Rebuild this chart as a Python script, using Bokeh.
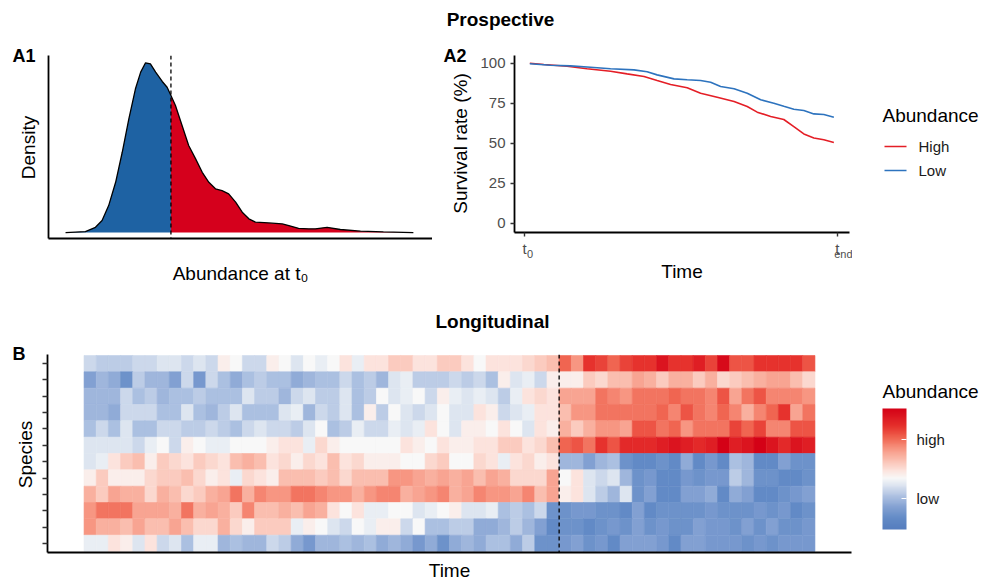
import math
from bokeh.plotting import figure
from bokeh.models import (Range1d, Span, FixedTicker, LinearColorMapper, LinearAxis,
                          ColorBar, ColumnDataSource)
from bokeh.layouts import column, row
from bokeh.transform import transform
from bokeh.core.properties import value
from bokeh.embed import file_html
from bokeh.resources import INLINE

FONT = "Liberation Sans"

# ---------------- A1: density of abundance at t0 ----------------
dens_x = [0.00, 0.57, 0.86, 1.05, 1.24, 1.44, 1.63, 1.82, 2.01, 2.16, 2.30, 2.44, 2.59, 2.78,
          2.92, 3.03, 3.16, 3.35, 3.54, 3.74, 3.93, 4.12, 4.31, 4.50, 4.69, 4.89, 5.08, 5.27,
          5.46, 5.84, 6.23, 6.42, 6.70, 6.99, 7.18, 7.52, 7.90, 8.48, 9.14, 10.00]
dens_y = [0.000, 0.006, 0.031, 0.071, 0.159, 0.296, 0.473, 0.670, 0.847, 0.945, 1.000, 0.994,
          0.945, 0.890, 0.856, 0.807, 0.748, 0.631, 0.513, 0.434, 0.355, 0.296, 0.258, 0.247,
          0.228, 0.179, 0.120, 0.081, 0.061, 0.057, 0.051, 0.041, 0.025, 0.022, 0.022, 0.031,
          0.018, 0.008, 0.004, 0.000]
threshold = 3.03

# ---------------- A2: survival curves ----------------
time_high = [0.017, 0.062, 0.136, 0.200, 0.275, 0.328, 0.382, 0.424, 0.467, 0.520, 0.563,
             0.616, 0.670, 0.712, 0.744, 0.787, 0.829, 0.861, 0.893, 0.925, 0.957, 0.989]
surv_high = [100, 99.2, 98.1, 96.5, 95, 93.3, 91.7, 89.2, 86.7, 84.6, 81.25,
             78.75, 76, 72.9, 69.4, 66.7, 64.8, 60.4, 55.8, 53.3, 52.1, 50.4]
time_low = [0.017, 0.083, 0.147, 0.211, 0.275, 0.350, 0.392, 0.424, 0.478, 0.520, 0.563, 0.595,
            0.627, 0.670, 0.712, 0.755, 0.797, 0.829, 0.861, 0.893, 0.925, 0.957, 0.989]
surv_low = [99.6, 98.75, 98.3, 97.5, 96.5, 95.8, 94.6, 92.7, 90.2, 89.6, 89.2, 88.1,
            85.4, 84, 81.25, 77.1, 75, 73.1, 71.25, 70.4, 68.3, 67.9, 66.25]
surv_ticks = [0, 25, 50, 75, 100]
time_ticks = [0, 1]
time_tick_main = ["t", "t"]
time_tick_sub = ["0", "end"]
group_labels = ["High", "Low"]

# ---------------- B: heatmap (12 species x 60 time steps) ----------------
sp01 = [-1.5, -2, -2, -2, -1.5, -1.5, -1, -1, -1.5, -1, -1.5, 0.5, 0, -1.5, -1.5,
        0.5, 0, -1, 0, -0.5, 0, 1, -0.5, 1, 1, 2, 2, 1, 1, 2,
        2, 1, 0, 1, 1, 1, 1.5, 2, 2.5, 5.5, 4, 7, 6.5, 5.5, 6.5,
        7, 7, 8.5, 7, 7, 8, 6.5, 9, 6, 6, 7, 7, 7, 7, 6]
sp02 = [-4, -3, -3.5, -5, -2, -3, -3, -4, -1.5, -4.5, -1.5, -2.5, -3.5, -2.5, -2,
        -2.5, -2.5, -3.5, -3, -2.5, -2.5, -1.5, -2.5, -2, -3, -1, -0.5, -2, -2, -2,
        -1.5, -2, -1.5, -2.5, 0.5, -1, -0.5, -1.5, 0.5, 0.5, 0.5, 2, 1.5, 2.5, 2.5,
        3.5, 3, 2, 3, 3, 2, 3, 1.5, 2, 2.5, 3, 3.5, 3.5, 2.5, 1.5]
sp03 = [-3, -3, -3, -1.5, -2.5, -2, -3, -2.5, -2.5, -2, -2.5, -2.5, -2.5, -1, -2,
        -2, -3, -1.5, -1, -2, -2, -1, -2.5, -2, 0, -1, -0.5, 0, -1.5, 0.5,
        -0.5, -1, -0.5, -1, -2, -0.5, 1, 1.5, 1, 3.5, 3.5, 3.5, 5, 4.5, 4,
        5, 5, 5, 5.5, 5, 5, 4.5, 6, 3.5, 5, 6, 4.5, 4.5, 4.5, 4]
sp04 = [-3, -3, -3.5, -1.5, -1.5, -1.5, -2.5, -2.5, -1, -2.5, -3, -2, -1, -2.5, -2.5,
        -2.5, -1, -0.5, -3, -1.5, -2, -1, -2.5, 0.5, -2, 0, -1, -1.5, -1, 0,
        -1, -1, 1, 0.5, -1.5, -1, -0.5, 1, 1, 2.5, 4, 4, 5, 5, 5,
        5, 5, 5.5, 4.5, 6, 5, 4.5, 5.5, 4.5, 3, 4.5, 5.5, 7, 3.5, 5]
sp05 = [-2.5, -1.5, -2.5, -1, -2.5, -2.5, -1.5, -1.5, -2, -2, -1.5, -2, -2.5, -1.5, -1,
        -1.5, -1.5, -2, -1, 0, -2.5, -2, -0.5, -1.5, -1.5, -0.5, -1, -0.5, 1, 0,
        -1, 0.5, 0.5, 0, 1, 0, -1, 1, 0.5, 3, 2, 3, 4, 4, 3.5,
        6, 6, 5, 5.5, 4, 5, 5, 5, 6.5, 5.5, 6.5, 4.5, 4.5, 6, 6]
sp06 = [-1, -1, -1, -1, -1.5, -0.5, 0, -1.5, 0.5, 0, -0.5, -0.5, 0, 0, 0,
        0.5, 1, 1, -0.5, 1.5, 0.5, 0, 0, 0, 0, 0, 1, 0.5, 0, 1,
        0.5, 0.5, 1, 1, 2, 2, 1, 1.5, 2.5, 5.5, 6, 5, 7, 6, 7.5,
        7.5, 7.5, 8, 8.5, 8, 7.5, 8, 9.5, 8, 8.5, 9.5, 8.5, 7.5, 8.5, 8]
sp07 = [-1, -0.5, 1, 2, 2.5, 0.5, 2, 1.5, 1, 2, 1.5, 1, 2.5, 3, 2.5,
        1, 1.5, 0.5, 1.5, 1, 2.5, 1, 1.5, 0.5, 0.5, 0.5, 0, 0, 1.5, 2,
        0, 0, 1.5, 1, -0.5, 1, 1.5, 0.5, 1, -3, -3, -4, -3, -2.5, -5,
        -5.5, -5.5, -5, -5.5, -3.5, -5.5, -4.5, -5.5, -2.5, -3, -5.5, -5.5, -4, -5, -5]
sp08 = [0.5, 2, 0.5, 0.5, 0.5, 1.5, 2, 2, 2.5, 1.5, 0.5, 1, -0.5, 1.5, 1,
        0.5, 2.5, 2.5, 2.5, 2, 2.5, 1.5, 2.5, 2.5, 2.5, 4, 4, 3.5, 3, 3.5,
        3, 3.5, 2.5, 3.5, 3, 1.5, 1.5, 1.5, 3.5, 0, 1, -1, -1.5, -1, -3,
        -5, -4.5, -5.5, -5.5, -4.5, -5, -4.5, -4.5, -2, -3, -5, -5, -5.5, -5.5, -5]
sp09 = [3, 2, 3.5, 3, 3, 1.5, 3, 2.5, 1.5, 2, 3, 3.5, 5, 3, 4.5,
        4, 4, 5, 5, 4.5, 4, 4, 3, 4, 4.5, 4.5, 3, 3.5, 4, 4.5,
        3, 3.5, 4.5, 4, 4, 3.5, 4.5, 2.5, 3.5, 0.5, 1, -1, -2, -3, -1,
        -5, -4, -5.5, -5.5, -4, -4, -3.5, -5.5, -3.5, -4, -5.5, -5.5, -5, -4.5, -4]
sp10 = [4, 5, 5, 5, 3.5, 3.5, 3.5, 3, 5, 3, 3.5, 3, 2, 4.5, 2.5,
        2.5, 3, 2.5, 3.5, 3, 1, 0, 1, -0.5, -0.5, 0, 0, -1, -0.5, 0,
        0.5, -1, -1, -0.5, -2.5, -2, -2.5, -1.5, -5, -5, -4.5, -4.5, -5, -5, -5.5,
        -4, -5.5, -5, -5, -5, -5, -4.5, -5, -5, -5, -4.5, -5, -4.5, -5.5, -5]
sp11 = [4, 3, 3, 2.5, 3.5, 2.5, 2.5, 3.5, 2.5, 1.5, 1.5, 3, 1.5, 0.5, 2,
        2, 2, -0.5, 0.5, 0, -1, -1.5, 0, -0.5, 0.5, 0.5, -1.5, 0, -2.5, -2.5,
        -2, -2, -3.5, -3.5, -3, -2, -3, -4, -5.5, -5, -5, -5.5, -5, -4.5, -5,
        -4, -5, -4.5, -5, -5, -4, -4.5, -4.5, -5, -4, -5, -4, -5, -5, -4.5]
sp12 = [-0.5, -0.5, 1, 0.5, -1, 1, -1.5, -1, -2.5, -0.5, -0.5, -3, -2.5, -3, -3,
        -1.5, -2, -3.5, -4.5, -3, -3, -2.5, -3, -2.5, -3.5, -3, -3.5, -4.5, -3.5, -5,
        -3.5, -3, -3.5, -2.5, -2.5, -3.5, -2, -5, -5, -4.5, -4, -5, -4.5, -5.5, -4,
        -4, -4, -4.5, -5.5, -4, -4, -4.5, -4.5, -4.5, -5, -4.5, -5, -4.5, -4.5, -4.5]
species_rows = [sp01, sp02, sp03, sp04, sp05, sp06, sp07, sp08, sp09, sp10, sp11, sp12]
split_col = 39
scale_low, scale_high = -7.0, 9.5
scale_ticks = [-2.75, 5.25]
scale_tick_labels = ["low", "high"]

# ---------------- styling ----------------
BLUE_FILL = "#1E62A3"
RED_FILL = "#D5001C"
RED_LINE = "#E41E26"
BLUE_LINE = "#2D73BE"
TICK_GREY = "#4D4D4D"

anchors = [(-7.0, (85, 125, 190)), (-5.5, (98, 138, 198)), (-4.0, (130, 160, 210)),
           (-2.5, (172, 192, 225)), (-1.0, (220, 228, 240)), (0.0, (248, 248, 248)),
           (1.0, (252, 228, 222)), (2.5, (250, 190, 175)), (4.0, (247, 150, 130)),
           (5.5, (240, 100, 80)), (7.0, (230, 50, 45)), (9.5, (212, 0, 22))]


def colour_at(v):
    for (v0, c0), (v1, c1) in zip(anchors[:-1], anchors[1:]):
        if v <= v1:
            t = max(0.0, (v - v0) / (v1 - v0))
            return "#%02x%02x%02x" % tuple(int(round(a + (b - a) * t)) for a, b in zip(c0, c1))
    return "#%02x%02x%02x" % anchors[-1][1]


palette = [colour_at(scale_low + (scale_high - scale_low) * (i + 0.5) / 256) for i in range(256)]


def style_axis(ax, tick_out=0):
    ax.axis_line_color = "black"
    ax.axis_line_width = 1.8
    ax.major_tick_line_color = "#333333" if tick_out else None
    ax.major_tick_line_width = 1.4
    ax.major_tick_in = 0
    ax.major_tick_out = tick_out
    ax.minor_tick_line_color = None
    ax.minor_tick_in = 0
    ax.minor_tick_out = 0
    ax.major_label_text_font = FONT
    ax.major_label_text_font_size = "15px"
    ax.major_label_text_color = TICK_GREY
    ax.axis_label_text_font = FONT
    ax.axis_label_text_font_size = "19px"
    ax.axis_label_text_font_style = "normal"
    ax.axis_label_text_color = "black"


def base_fig(w, h, xr, yr, bl, br, bt, bb):
    p = figure(width=w, height=h, x_range=Range1d(*xr), y_range=Range1d(*yr),
               output_backend="svg", toolbar_location=None,
               min_border_left=bl, min_border_right=br, min_border_top=bt, min_border_bottom=bb)
    p.outline_line_color = None
    p.xgrid.visible = False
    p.ygrid.visible = False
    return p


def blank_fig(w, h):
    """A figure whose frame is its whole canvas; 1 data unit = 1 pixel."""
    p = figure(width=w, height=h, x_range=Range1d(0, w), y_range=Range1d(0, h),
               output_backend="svg", toolbar_location=None, min_border=0,
               x_axis_location=None, y_axis_location=None)
    p.outline_line_color = None
    p.xgrid.visible = False
    p.ygrid.visible = False
    return p


def put_text(p, origin, px, py, txt, size="19px", style="normal", align="center",
             baseline="middle", angle=0.0, color="black"):
    """Write text at page pixel (px, py) into blank figure p whose top-left is origin."""
    p.text(x=[px - origin[0]], y=[p.height - (py - origin[1])], text=[txt],
           text_font=value(FONT), text_font_size=value(size), text_font_style=value(style),
           text_align=value(align), text_baseline=value(baseline), angle=angle,
           text_color=color)


def solo(p):
    """Wrap a figure on its own so that its frame is not aligned with its neighbours."""
    return column(p)


# ================= header "Prospective" (page 0..992 x 0..40) =================
h1 = blank_fig(992, 40)
put_text(h1, (0, 0), 500, 19, "Prospective", style="bold")

# ================= A1 side strip (0..40 x 40..300) =================
sA1 = blank_fig(40, 260)
put_text(sA1, (0, 40), 12, 55, "A1", size="18px", style="bold", align="left")
put_text(sA1, (0, 40), 28, 147, "Density", angle=math.pi / 2)

# ================= A1 density (40..432 x 40..300) =================
p1 = base_fig(392, 260, (-0.49, 10.55), (-0.035, 1.043), 8, 0, 15, 62)
k = dens_x.index(threshold)
p1.varea(x=dens_x[:k + 1], y1=0, y2=dens_y[:k + 1], fill_color=BLUE_FILL)
p1.varea(x=dens_x[k:], y1=0, y2=dens_y[k:], fill_color=RED_FILL)
p1.line(dens_x, dens_y, line_color="black", line_width=1.3)
p1.add_layout(Span(location=threshold, dimension="height", line_color="black",
                   line_dash="4 3", line_width=1.3))
p1.xaxis.ticker = FixedTicker(ticks=[])
p1.yaxis.ticker = FixedTicker(ticks=[])
for ax in (p1.xaxis[0], p1.yaxis[0]):
    style_axis(ax, 0)
    ax.major_label_standoff = 0
p1.xaxis.axis_label = "Abundance at t\u2080"
p1.xaxis.axis_label_standoff = 24

# ================= A2 side strip (432..474 x 40..300) =================
sA2 = blank_fig(42, 260)
put_text(sA2, (432, 40), 443, 55, "A2", size="18px", style="bold", align="left")
put_text(sA2, (432, 40), 460, 143, "Survival rate (%)", angle=math.pi / 2)

# ================= A2 survival (474..852 x 40..300) =================
a2_xr = (-0.032, 1.039)
p2 = base_fig(378, 260, a2_xr, (-5.8, 104.8), 40, 3, 15, 68)
p2.line(time_high, surv_high, line_color=RED_LINE, line_width=1.6)
p2.line(time_low, surv_low, line_color=BLUE_LINE, line_width=1.6)
style_axis(p2.yaxis[0], 4)
style_axis(p2.xaxis[0], 4)
p2.yaxis.ticker = FixedTicker(ticks=surv_ticks)
p2.yaxis.major_label_standoff = 5
p2.xaxis.ticker = FixedTicker(ticks=time_ticks)
p2.xaxis.major_label_overrides = {t: m for t, m in zip(time_ticks, time_tick_main)}
p2.xaxis.major_label_standoff = 3
# subscripts of the time tick labels: a second, line-less axis just under the first
px_per_unit = (849 - 514) / (a2_xr[1] - a2_xr[0])
sub_pos = [round(t + (2.4 + 3.05 * len(s)) / px_per_unit, 4) for t, s in zip(time_ticks, time_tick_sub)]
sub_axis = LinearAxis(ticker=FixedTicker(ticks=sub_pos),
                      major_label_overrides={p: s for p, s in zip(sub_pos, time_tick_sub)})
style_axis(sub_axis, 0)
sub_axis.axis_line_color = None
sub_axis.major_label_text_font_size = "11px"
sub_axis.major_label_standoff = -12
sub_axis.axis_label = "Time"
sub_axis.axis_label_standoff = -2
p2.add_layout(sub_axis, "below")

# ================= A2 legend (852..992 x 40..300) =================
pL = blank_fig(140, 260)
oL = (852, 40)
put_text(pL, oL, 882, 115, "Abundance", align="left")
for lab, col, py in zip(group_labels, [RED_LINE, BLUE_LINE], [146, 170]):
    yy = pL.height - (py - oL[1])
    pL.line(x=[884 - oL[0], 906 - oL[0]], y=[yy, yy], line_color=col, line_width=1.6)
    put_text(pL, oL, 918, py, lab, size="15px", align="left", color="#1A1A1A")

# ================= header "Longitudinal" (0..992 x 300..340) =================
h2 = blank_fig(992, 40)
put_text(h2, (0, 300), 492, 321, "Longitudinal", style="bold")

# ================= B side strip (0..40 x 340..583) =================
sB = blank_fig(40, 243)
put_text(sB, (0, 340), 12, 353, "B", size="18px", style="bold", align="left")
put_text(sB, (0, 340), 25, 454, "Species", angle=math.pi / 2)

# ================= B heatmap (40..860 x 340..583) =================
p3 = base_fig(820, 243, (-3.0, 63.0), (-0.06, 12.06), 7, 9, 14, 30)
n_rows = len(species_rows)
xs, ys, vs = [], [], []
for r, vals in enumerate(species_rows):
    for c, v in enumerate(vals):
        xs.append(c + 0.5)
        ys.append(n_rows - r - 0.5)
        vs.append(v)
src = ColumnDataSource(dict(x=xs, y=ys, v=vs))
mapper = LinearColorMapper(palette=palette, low=scale_low, high=scale_high)
p3.rect(x="x", y="y", width=1, height=1, source=src, fill_color=transform("v", mapper),
        line_color=transform("v", mapper), line_width=0.6)
p3.add_layout(Span(location=split_col, dimension="height", line_color="black",
                   line_dash="4 3", line_width=1.3))
style_axis(p3.yaxis[0], 5)
style_axis(p3.xaxis[0], 0)
p3.yaxis.ticker = FixedTicker(ticks=[i + 0.5 for i in range(n_rows)])
p3.yaxis.major_label_overrides = {i + 0.5: "" for i in range(n_rows)}
p3.yaxis.major_label_text_color = None
p3.yaxis.major_label_standoff = 0
p3.xaxis.ticker = FixedTicker(ticks=[])
p3.xaxis.major_label_standoff = 0
p3.xaxis.axis_label = "Time"
p3.xaxis.axis_label_standoff = 7

# ================= colour bar (860..992 x 340..583) =================
pC = blank_fig(132, 211)
put_text(pC, (860, 340), 882, 391, "Abundance", align="left")
cb = ColorBar(color_mapper=mapper, ticker=FixedTicker(ticks=scale_ticks),
              major_label_overrides={t: s for t, s in zip(scale_ticks, scale_tick_labels)},
              major_label_text_font=FONT, major_label_text_font_size="15px",
              major_label_text_color="#1A1A1A", label_standoff=10,
              major_tick_line_color="white", major_tick_in=5, major_tick_out=0,
              minor_tick_line_color=None, bar_line_color=None, border_line_color=None,
              background_fill_alpha=0, width=24, height=121, padding=0, margin=22,
              location="bottom_left")
pC.add_layout(cb)
pC_pad = blank_fig(132, 32)

layout = column(
    h1,
    row(solo(sA1), solo(p1), solo(sA2), solo(p2), solo(pL)),
    h2,
    row(solo(sB), solo(p3), column(pC, pC_pad)),
)
open("out.html", "w").write(file_html(layout, INLINE))
